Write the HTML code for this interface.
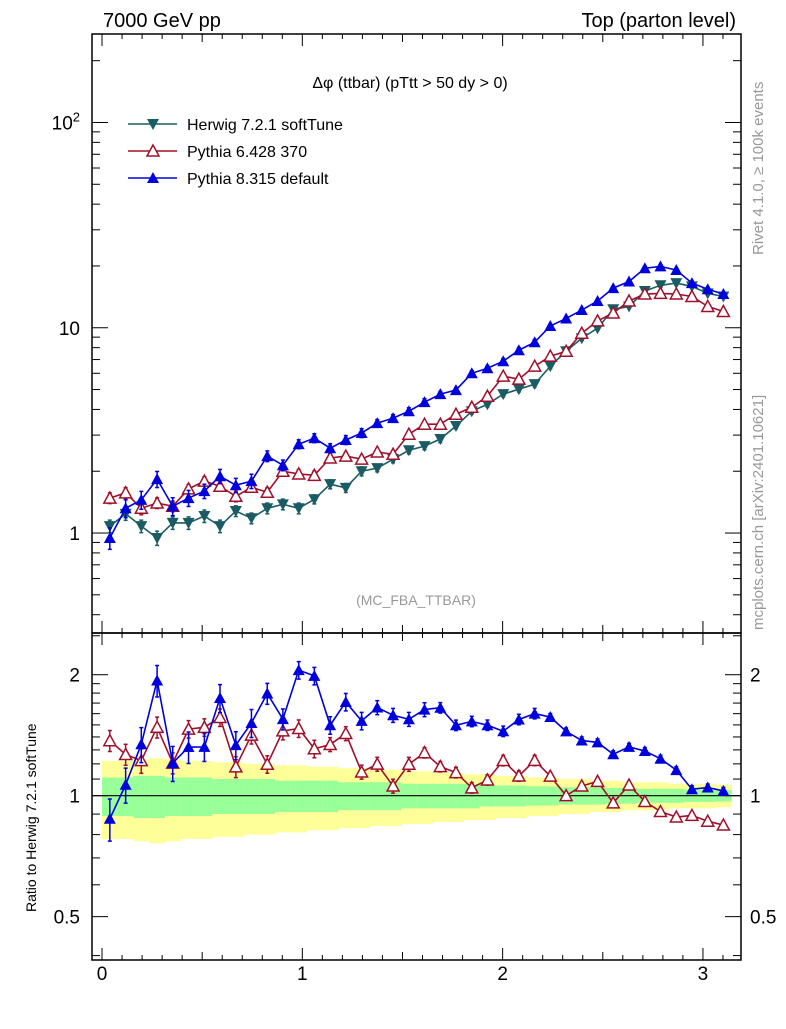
<!DOCTYPE html>
<html><head><meta charset="utf-8">
<style>
body{margin:0;background:#fff;font-family:"Liberation Sans",sans-serif;}
svg text{font-family:"Liberation Sans",sans-serif;}
</style></head>
<body>
<svg id="chart" width="786" height="1024" xmlns="http://www.w3.org/2000/svg"></svg>
<script>
const xCenters = [0.039,0.118,0.196,0.275,0.353,0.432,0.511,0.589,0.668,0.746,0.825,0.903,0.982,1.060,1.139,1.217,1.296,1.374,1.453,1.532,1.610,1.689,1.767,1.846,1.924,2.003,2.081,2.160,2.238,2.317,2.395,2.474,2.552,2.631,2.710,2.788,2.867,2.945,3.024,3.102];
const herwig = [1.08,1.24,1.08,0.946,1.12,1.12,1.21,1.08,1.28,1.18,1.32,1.38,1.32,1.46,1.73,1.66,2.00,2.07,2.29,2.53,2.65,2.87,3.32,3.92,4.24,4.75,5.02,5.31,6.50,7.68,8.89,9.95,12.3,12.7,15.1,16.1,16.5,15.9,14.7,14.2];
const pythia6 = [1.48,1.57,1.32,1.40,1.35,1.64,1.79,1.69,1.51,1.67,1.58,2.00,1.94,1.91,2.32,2.37,2.29,2.48,2.42,3.03,3.39,3.39,3.79,4.10,4.64,5.81,5.62,6.50,7.27,7.68,9.40,10.8,11.8,13.5,14.6,14.7,14.6,14.2,12.7,12.0];
const pythia8 = [0.946,1.32,1.45,1.83,1.35,1.48,1.60,1.89,1.71,1.79,2.37,2.14,2.71,2.90,2.59,2.84,3.07,3.43,3.63,3.92,4.34,4.75,4.97,6.00,6.35,6.87,7.77,8.50,10.2,11.1,12.2,13.5,15.6,16.8,19.5,19.9,19.1,16.5,15.4,14.6];
const herwigErr = [0.07,0.07,0.07,0.08,0.07,0.07,0.07,0.07,0.06,0.06,0.06,0.06,0.06,0.05,0.05,0.05,0.05,0.04,0.04,0.04,0.04,0.04,0.03,0.03,0.03,0.03,0.03,0.03,0.03,0.025,0.025,0.02,0.02,0.02,0.02,0.02,0.02,0.02,0.02,0.02];
const pythia6Err = [0.06,0.06,0.07,0.06,0.06,0.05,0.05,0.05,0.06,0.05,0.05,0.05,0.05,0.05,0.04,0.04,0.04,0.04,0.04,0.04,0.03,0.03,0.03,0.03,0.03,0.03,0.03,0.03,0.02,0.02,0.02,0.02,0.02,0.02,0.02,0.02,0.02,0.02,0.02,0.02];
const pythia8Err = [0.12,0.10,0.10,0.09,0.10,0.09,0.08,0.08,0.08,0.08,0.06,0.06,0.05,0.05,0.05,0.05,0.05,0.04,0.04,0.04,0.04,0.03,0.03,0.03,0.03,0.03,0.03,0.03,0.02,0.02,0.02,0.02,0.02,0.02,0.02,0.02,0.02,0.02,0.02,0.02];
const yellowBand = [0.22,0.22,0.23,0.24,0.23,0.22,0.22,0.21,0.21,0.20,0.20,0.19,0.19,0.18,0.18,0.17,0.17,0.16,0.16,0.15,0.15,0.14,0.14,0.13,0.13,0.12,0.12,0.11,0.11,0.10,0.10,0.09,0.09,0.08,0.08,0.08,0.07,0.07,0.07,0.065];
const greenBand = [0.11,0.11,0.12,0.12,0.11,0.11,0.11,0.10,0.10,0.10,0.10,0.09,0.09,0.09,0.09,0.08,0.08,0.08,0.08,0.07,0.07,0.07,0.07,0.07,0.06,0.06,0.06,0.055,0.055,0.05,0.05,0.05,0.045,0.045,0.04,0.04,0.04,0.035,0.035,0.033];
const xTicks = [0,1,2,3];
const mainTickLabels = [{v:1,t:"1"},{v:10,t:"10"}];
const ratioTicks = [0.5,1,2];

const NS="http://www.w3.org/2000/svg";
const svg=document.getElementById('chart');
const L=92,R=741,T=34,MB=633,RB=960;
const X0=-0.05,X1=3.19;
const sx=v=>L+(v-X0)/(X1-X0)*(R-L);
const LOGMIN=-0.487,LOGMAX=2.431;
const sy=v=>MB-(Math.log10(v)-LOGMIN)/(LOGMAX-LOGMIN)*(MB-T);
const RMIN=Math.log2(0.39),RMAX=Math.log2(2.54);
const ry=v=>RB-(Math.log2(v)-RMIN)/(RMAX-RMIN)*(RB-MB);
function el(tag,attrs,parent){const e=document.createElementNS(NS,tag);for(const k in attrs)e.setAttribute(k,attrs[k]);(parent||svg).appendChild(e);return e;}
function txt(x,y,s,attrs){const t=el('text',Object.assign({x:x,y:y},attrs||{}));t.textContent=s;return t;}

let t;
t=txt(103,27,"7000 GeV pp",{"font-size":20});


t=txt(736,27,"Top (parton level)",{"font-size":20,"text-anchor":"end"});


t=txt(410,88,"Δφ (ttbar) (pTtt > 50 dy > 0)",{"font-size":16,"text-anchor":"middle"});


t=txt(416,605,"(MC_FBA_TTBAR)",{"font-size":14,"text-anchor":"middle",fill:"#999"});


t=txt(0,0,"Rivet 4.1.0, ≥ 100k events",{"font-size":15,fill:"#999",transform:"translate(763,255) rotate(-90)"});


t=txt(0,0,"mcplots.cern.ch [arXiv:2401.10621]",{"font-size":15,fill:"#999",transform:"translate(763,630) rotate(-90)"});


t=txt(0,0,"Ratio to Herwig 7.2.1 softTune",{"font-size":14,transform:"translate(36,912) rotate(-90)"});



for(let i=0;i<xCenters.length;i++){
  const x0=sx(xCenters[i]-0.03925),x1=sx(xCenters[i]+0.03925);
  let r=el('rect',{x:x0,y:ry(1+yellowBand[i]),width:x1-x0+0.5,height:ry(1-yellowBand[i])-ry(1+yellowBand[i]),fill:"#ffff99"});
  
  
  r=el('rect',{x:x0,y:ry(1+greenBand[i]),width:x1-x0+0.5,height:ry(1-greenBand[i])-ry(1+greenBand[i]),fill:"#99ff99"});
  
  
}
let ln=el('line',{x1:L,x2:R,y1:ry(1),y2:ry(1),stroke:"#000","stroke-width":1.2});



let f=el('rect',{x:L,y:T,width:R-L,height:MB-T,fill:"none",stroke:"#000","stroke-width":1.5});


f=el('rect',{x:L,y:MB,width:R-L,height:RB-MB,fill:"none",stroke:"#000","stroke-width":1.5});



for(let v=0;v<=3.15;v+=0.1){
  const major=Math.abs(v-Math.round(v))<1e-6, half=Math.abs(v*2-Math.round(v*2))<1e-6;
  const len=major?12:(half?8:5), x=sx(v);
  [[T,1],[MB,-1],[MB,1],[RB,-1]].forEach(([y,d])=>el('line',{x1:x,x2:x,y1:y,y2:y+d*len,stroke:"#000"}));
}
xTicks.forEach(v=>{const a=txt(sx(v),980,String(v),{"font-size":19,"text-anchor":"middle"});

});

for(let d=-1;d<=2;d++){for(let m=1;m<=9;m++){const v=m*Math.pow(10,d);const lg=Math.log10(v);if(lg<LOGMIN||lg>LOGMAX)continue;const y=sy(v);const len=m===1?16:8;
el('line',{x1:L,x2:L+len,y1:y,y2:y,stroke:"#000"});el('line',{x1:R,x2:R-len,y1:y,y2:y,stroke:"#000"});}}
mainTickLabels.forEach(o=>{const a=txt(80,sy(o.v)+7,o.t,{"font-size":19,"text-anchor":"end"});

});
t=el('text',{x:80,y:sy(100)+7,"font-size":19,"text-anchor":"end"});
t.innerHTML='10<tspan dy="-8" font-size="13">2</tspan>';



[0.4,0.5,0.6,0.7,0.8,0.9,1,1.1,1.2,1.3,1.4,1.5,1.6,1.7,1.8,1.9,2,2.5].forEach(v=>{const y=ry(v);const major=[0.5,1,2].includes(v);const len=major?16:8;
el('line',{x1:L,x2:L+len,y1:y,y2:y,stroke:"#000"});el('line',{x1:R,x2:R-len,y1:y,y2:y,stroke:"#000"});});
ratioTicks.forEach(v=>{let a=txt(80,ry(v)+7,String(v),{"font-size":19,"text-anchor":"end"});


a=txt(750,ry(v)+7,String(v),{"font-size":19});

});

function marker(g,x,y,type,color){
  if(type==='down')el('path',{d:`M${x-6},${y-5}L${x+6},${y-5}L${x},${y+6}Z`,fill:color},g);
  else if(type==='up')el('path',{d:`M${x-6},${y+5}L${x+6},${y+5}L${x},${y-6}Z`,fill:color},g);
  else el('path',{d:`M${x-6},${y+5}L${x+6},${y+5}L${x},${y-6}Z`,fill:"#fff",stroke:color,"stroke-width":1.5},g);
}
function series(name,vals,errs,ys,ratio,type,color){
  const g=el('g',{});
  
  
  const pts=vals.map((v,i)=>{const val=ratio?v/herwig[i]:v;return [sx(xCenters[i]),ys(val),val];});
  el('polyline',{points:pts.map(p=>p[0]+','+p[1]).join(' '),fill:"none",stroke:color,"stroke-width":1.6},g);
  pts.forEach((p,i)=>{const e=errs[i];const y1=ys(p[2]*(1+e)),y2=ys(p[2]*(1-e));
    el('line',{x1:p[0],x2:p[0],y1:y1,y2:y2,stroke:color,"stroke-width":1.5},g);
    el('line',{x1:p[0]-2,x2:p[0]+2,y1:y1,y2:y1,stroke:color,"stroke-width":1.5},g);
    el('line',{x1:p[0]-2,x2:p[0]+2,y1:y2,y2:y2,stroke:color,"stroke-width":1.5},g);
    marker(g,p[0],p[1],type,color);});
}
series('herwig-series',herwig,herwigErr,sy,false,'down','#1a5c63');
series('pythia6-series',pythia6,pythia6Err,sy,false,'open','#a0102a');
series('pythia8-series',pythia8,pythia8Err,sy,false,'up','#0000dd');
series('pythia6-ratio',pythia6,pythia6Err,ry,true,'open','#a0102a');
series('pythia8-ratio',pythia8,pythia8Err,ry,true,'up','#0000dd');

const leg=[["Herwig 7.2.1 softTune",'down','#1a5c63'],["Pythia 6.428 370",'open','#a0102a'],["Pythia 8.315 default",'up','#0000dd']];
leg.forEach((l,i)=>{const y=124+i*27;const g=el('g',{});


el('line',{x1:128,x2:177,y1:y,y2:y,stroke:l[2],"stroke-width":1.6},g);
marker(g,153,y,l[1],l[2]);
const tt=txt(187,y+6,l[0],{"font-size":16});g.appendChild(tt);});
</script>
</body></html>
